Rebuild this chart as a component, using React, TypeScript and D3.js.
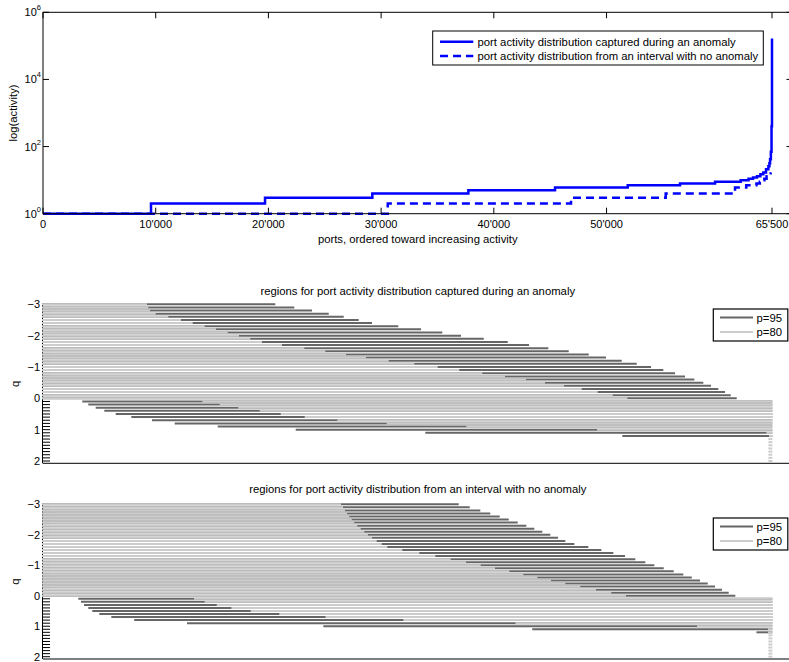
import React from "react";
import * as d3 from "d3";

const W = 789;
const H = 662;
const FONT = "'Liberation Sans', Arial, Helvetica, sans-serif";
const LABEL_SIZE = 11.3;
const TICK_SIZE = 11;

// ---------- top chart data ----------
const anomalyPorts = [0, 9583, 19700, 29220, 37740, 45430, 51880, 56520, 59630, 61900, 62600, 63000, 63350, 63650, 63910, 64150, 64360, 64450, 64510, 64580, 64640, 64680];
const anomalyActivity = [1, 2, 3, 4, 5, 6, 7, 8, 9, 10, 11, 12, 13, 15, 17, 21, 26, 32, 42, 70, 400, 167000];
const normalPorts = [0, 30590, 46850, 55250, 61400, 62400, 63300, 63600, 63800, 64000, 64200, 64360, 64560];
const normalActivity = [1, 2, 3, 4, 6, 7, 8, 9, 10, 11, 13, 16, 17];
const portTicks = [0, 10000, 20000, 30000, 40000, 50000, 64680];
const portTickLabels = ["0", "10'000", "20'000", "30'000", "40'000", "50'000", "65'500"];
const activityTicks = [1, 100, 10000, 1000000];
const activityTickExponents = ["0", "2", "4", "6"];
const seriesLabels = [
  "port activity distribution captured during an anomaly",
  "port activity distribution from an interval with no anomaly",
];

// ---------- region charts data ----------
const qValues = [
  -3, -2.9, -2.8, -2.7, -2.6, -2.5, -2.4, -2.3, -2.2, -2.1, -2, -1.9, -1.8, -1.7, -1.6, -1.5, -1.4,
  -1.3, -1.2, -1.1, -1, -0.9, -0.8, -0.7, -0.6, -0.5, -0.4, -0.3, -0.2, -0.1, 0, 0.1, 0.2, 0.3,
  0.4, 0.5, 0.6, 0.7, 0.8, 0.9, 1, 1.1, 1.2, 1.3, 1.4, 1.5, 1.6, 1.7, 1.8, 1.9, 2,
];
const qTicks = [-3, -2, -1, 0, 1, 2];
const qTickLabels = ["\u22123", "\u22122", "\u22121", "0", "1", "2"];
const regionLabels = ["p=95", "p=80"];
const titles = [
  "regions for port activity distribution captured during an anomaly",
  "regions for port activity distribution from an interval with no anomaly",
];

const anomalyP95Lo = [
  0, 0, 0, 0, 0, 0, 0, 0, 0, 0, 0, 0, 0, 0, 0, 0, 0, 0, 0, 0, 0, 0, 0, 0, 0, 0, 0, 0, 0, 0, 0,
  3576, 4108, 4765, 5528, 6539, 7924, 9760, 11775, 15590, 22511, 34010, 51490,
  64620, 64620, 64620, 64620, 64620, 64620, 64620, 64620,
];
const anomalyP95Hi = [
  20524, 22209, 23780, 25262, 26593, 27924, 29103, 31437, 33451, 35341, 37000, 39015, 41144, 43034,
  44747, 46557, 48332, 49867, 51259, 52590, 53859, 54950, 55989, 56876, 57702, 58500, 59183, 59831,
  60425, 60931, 61463,
  64620, 64620, 64620, 64620, 64620, 64620, 64620, 64620, 64620, 64620, 64620, 64620,
  64620, 64620, 64620, 64620, 64620, 64620, 64620, 64620,
];
const anomalyP80Lo = [
  0, 0, 0, 0, 0, 0, 0, 0, 0, 0, 0, 0, 0, 0, 0, 0, 0, 0, 0, 0, 0, 0, 0, 0, 0, 0, 0, 0, 0, 0, 0,
  14223, 15767, 17418, 19317, 21180, 23310, 26202, 30586, 37648, 49245, 64266, 64506,
  64450, 64450, 64450, 64450, 64450, 64450, 64450, 64450,
];
const anomalyP80Hi = [
  9139, 9255, 9406, 9911, 11029, 12156, 13194, 14259, 15262, 16300, 17302, 18305, 19343, 21118,
  23097, 24960, 26797, 28571, 30586, 32857, 34933, 36850, 38891, 40904, 42768, 44454, 46140, 47710,
  49130, 50461, 51757,
  64620, 64620, 64620, 64620, 64620, 64620, 64620, 64620, 64620, 64620, 64620, 64620,
  64620, 64620, 64620, 64620, 64620, 64620, 64620, 64620,
];

const normalP95Lo = [
  0, 0, 0, 0, 0, 0, 0, 0, 0, 0, 0, 0, 0, 0, 0, 0, 0, 0, 0, 0, 0, 0, 0, 0, 0, 0, 0, 0, 0, 0, 0,
  3221, 3460, 3727, 4108, 4463, 5084, 6149, 8181, 12866, 24960, 43496, 63389,
  64620, 64620, 64620, 64620, 64620, 64620, 64620, 64620,
];
const normalP95Hi = [
  36796, 37772, 38713, 39600, 40434, 41233, 42032, 42795, 43505, 44215, 44925, 45607, 46255, 47054,
  48296, 49450, 50514, 51553, 52467, 53354, 54153, 54987, 55874, 56726, 57471, 58207, 58891, 59538,
  60159, 60754, 61339,
  64620, 64620, 64620, 64620, 64620, 64620, 64620, 64620, 64620, 64620, 64620, 64620,
  64620, 64620, 64620, 64620, 64620, 64620, 64620, 64620,
];
const normalP80Lo = [
  0, 0, 0, 0, 0, 0, 0, 0, 0, 0, 0, 0, 0, 0, 0, 0, 0, 0, 0, 0, 0, 0, 0, 0, 0, 0, 0, 0, 0, 0, 0,
  13487, 14436, 15501, 16797, 18518, 21056, 25155, 32058, 42005, 58118, 64409, 64409,
  64450, 64450, 64450, 64450, 64450, 64450, 64450, 64450,
];
const normalP80Hi = [
  26353, 26531, 26708, 26886, 27090, 27303, 27533, 27800, 28101, 28421, 28749, 29104, 29521, 29965,
  30461, 31792, 33301, 34720, 36087, 37444, 38749, 40017, 41286, 42529, 43771, 44986, 46255, 47586,
  48979, 50337, 51641,
  64620, 64620, 64620, 64620, 64620, 64620, 64620, 64620, 64620, 64620, 64620, 64620,
  64620, 64620, 64620, 64620, 64620, 64620, 64620, 64620,
];

// ---------- layout ----------
const X_LEFT = 43;
const X_RIGHT = 792.5;
const xScale = d3.scaleLinear().domain([0, 66500]).range([X_LEFT, X_RIGHT]);

const TOP_Y0 = 213.7;
const TOP_Y1 = 12.3;
const yLog = d3.scaleLog().domain([1, 1e6]).range([TOP_Y0, TOP_Y1]);

const BLUE = "#0000ff";
const DARK = "#666666";
const LIGHT = "#cccccc";
const TICK = 6;

function TopChart() {
  const lineGen = d3
    .line<[number, number]>()
    .x((d) => xScale(d[0]))
    .y((d) => yLog(d[1]))
    .curve(d3.curveStepAfter);
  const anomaly = anomalyPorts.map((p, i) => [p, anomalyActivity[i]] as [number, number]);
  const normal = normalPorts.map((p, i) => [p, normalActivity[i]] as [number, number]);
  const cx = (X_LEFT + X_RIGHT) / 2;
  const lg = { x0: 432.7, x1: 763.3, y0: 31, y1: 65 };
  return (
    <g>
      {/* data */}
      <path d={lineGen(normal) || ""} fill="none" stroke={BLUE} strokeWidth={2.5} strokeDasharray="8,5" />
      <path d={lineGen(anomaly) || ""} fill="none" stroke={BLUE} strokeWidth={2.5} />
      {/* frame */}
      <rect x={X_LEFT} y={TOP_Y1} width={X_RIGHT - X_LEFT} height={TOP_Y0 - TOP_Y1} fill="none" stroke="#000" strokeWidth={1} />
      {portTicks.map((t, i) => (
        <g key={"xt" + i}>
          <line x1={xScale(t)} x2={xScale(t)} y1={TOP_Y0} y2={TOP_Y0 - TICK} stroke="#000" />
          <line x1={xScale(t)} x2={xScale(t)} y1={TOP_Y1} y2={TOP_Y1 + TICK} stroke="#000" />
          <text x={xScale(t)} y={228} textAnchor="middle" fontSize={TICK_SIZE} fontFamily={FONT}>
            {portTickLabels[i]}
          </text>
        </g>
      ))}
      {activityTicks.map((t, i) => (
        <g key={"yt" + i}>
          <line x1={X_LEFT} x2={X_LEFT + TICK} y1={yLog(t)} y2={yLog(t)} stroke="#000" />
          <line x1={X_RIGHT} x2={X_RIGHT - TICK} y1={yLog(t)} y2={yLog(t)} stroke="#000" />
          <text x={41} y={yLog(t) + 4} textAnchor="end" fontSize={TICK_SIZE} fontFamily={FONT}>
            10
            <tspan dy={-6} fontSize={7.5}>
              {activityTickExponents[i]}
            </tspan>
          </text>
        </g>
      ))}
      <text x={cx} y={242.5} textAnchor="middle" fontSize={LABEL_SIZE} fontFamily={FONT}>
        ports, ordered toward increasing activity
      </text>
      <text
        transform={`translate(17, ${(TOP_Y0 + TOP_Y1) / 2}) rotate(-90)`}
        textAnchor="middle"
        fontSize={LABEL_SIZE}
        fontFamily={FONT}
      >
        log(activity)
      </text>
      {/* legend */}
      <rect x={lg.x0} y={lg.y0} width={lg.x1 - lg.x0} height={lg.y1 - lg.y0} fill="#fff" stroke="#000" strokeWidth={1} />
      {seriesLabels.map((s, i) => {
        const yy = lg.y0 + 10.7 + i * 14.3;
        return (
          <g key={"lg" + i}>
            <line
              x1={440}
              x2={473.3}
              y1={yy}
              y2={yy}
              stroke={BLUE}
              strokeWidth={2.5}
              strokeDasharray={i === 1 ? "8,5" : undefined}
            />
            <text x={477.5} y={yy + 4} fontSize={LABEL_SIZE} fontFamily={FONT}>
              {s}
            </text>
          </g>
        );
      })}
    </g>
  );
}

interface PanelProps {
  title: string;
  titleY: number;
  qTop: number;
  qBottom: number;
  p95Lo: number[];
  p95Hi: number[];
  p80Lo: number[];
  p80Hi: number[];
  legendY: number;
}

function RegionPanel(props: PanelProps) {
  const { title, titleY, qTop, qBottom, p95Lo, p95Hi, p80Lo, p80Hi, legendY } = props;
  const yq = d3.scaleLinear().domain([-3, 2]).range([qTop, qBottom]);
  const baseY = yq(2) + 2.3;
  const cx = (X_LEFT + X_RIGHT) / 2;
  return (
    <g>
      {/* y ticks every row */}
      {qValues.map((q, i) => (
        <line key={"c" + i} x1={X_LEFT} x2={X_LEFT + 7} y1={yq(q)} y2={yq(q)} stroke="#000" strokeWidth={1} />
      ))}
      <line x1={42.5} x2={42.5} y1={yq(-3) - 1} y2={baseY} stroke="#000" strokeWidth={1} />
      {/* p95 regions */}
      {qValues.map((q, i) =>
        p95Hi[i] > p95Lo[i] ? (
          <line
            key={"d" + i}
            x1={xScale(p95Lo[i])}
            x2={xScale(p95Hi[i])}
            y1={yq(q)}
            y2={yq(q)}
            stroke={DARK}
            strokeWidth={2}
            strokeLinecap="square"
          />
        ) : null
      )}
      {/* p80 regions */}
      {qValues.map((q, i) =>
        p80Hi[i] > p80Lo[i] ? (
          <line
            key={"l" + i}
            x1={xScale(p80Lo[i])}
            x2={xScale(p80Hi[i])}
            y1={yq(q)}
            y2={yq(q)}
            stroke={LIGHT}
            strokeWidth={2}
            strokeLinecap="square"
          />
        ) : null
      )}
      <line x1={X_LEFT} x2={W} y1={baseY} y2={baseY} stroke="#000" strokeWidth={1} />
      {qTicks.map((t, i) => (
        <text key={"qt" + i} x={40} y={yq(t) + 4} textAnchor="end" fontSize={TICK_SIZE} fontFamily={FONT}>
          {qTickLabels[i]}
        </text>
      ))}
      <text x={cx} y={titleY} textAnchor="middle" fontSize={LABEL_SIZE} fontFamily={FONT}>
        {title}
      </text>
      <text
        transform={`translate(19, ${(yq(-3) + baseY) / 2}) rotate(-90)`}
        textAnchor="middle"
        fontSize={LABEL_SIZE}
        fontFamily={FONT}
      >
        q
      </text>
      {/* legend */}
      <rect x={713.3} y={legendY} width={74.5} height={32} fill="#fff" stroke="#000" strokeWidth={1.2} />
      {regionLabels.map((s, i) => {
        const yy = legendY + 8.5 + i * 14.5;
        return (
          <g key={"rl" + i}>
            <line x1={720} x2={753} y1={yy} y2={yy} stroke={i === 0 ? DARK : LIGHT} strokeWidth={2} />
            <text x={756.5} y={yy + 4} fontSize={LABEL_SIZE} fontFamily={FONT}>
              {s}
            </text>
          </g>
        );
      })}
    </g>
  );
}

export default function App() {
  return (
    <svg
      width={W}
      height={H}
      viewBox={`0 0 ${W} ${H}`}
      style={{ position: "absolute", left: 0, top: 0, background: "#fff" }}
    >
      <rect x={0} y={0} width={W} height={H} fill="#fff" />
      <TopChart />
      <RegionPanel
        title={titles[0]}
        titleY={294.5}
        qTop={304.3}
        qBottom={461}
        p95Lo={anomalyP95Lo}
        p95Hi={anomalyP95Hi}
        p80Lo={anomalyP80Lo}
        p80Hi={anomalyP80Hi}
        legendY={309}
      />
      <RegionPanel
        title={titles[1]}
        titleY={493}
        qTop={504.3}
        qBottom={656.7}
        p95Lo={normalP95Lo}
        p95Hi={normalP95Hi}
        p80Lo={normalP80Lo}
        p80Hi={normalP80Hi}
        legendY={518}
      />
    </svg>
  );
}
